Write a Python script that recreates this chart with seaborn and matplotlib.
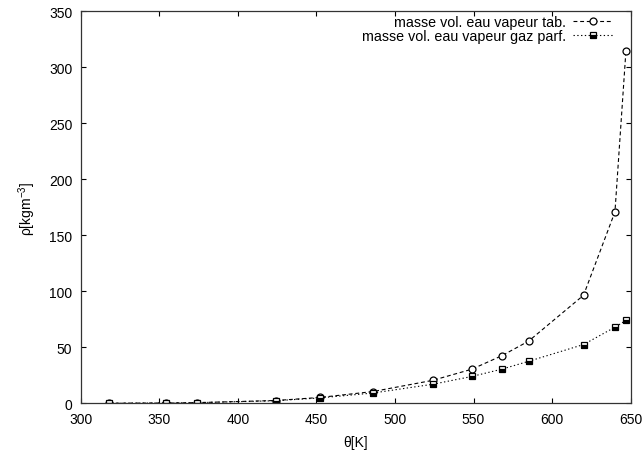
import numpy as np
import matplotlib
matplotlib.use("Agg")
import matplotlib.pyplot as plt
import seaborn as sns

# temperatures [K]
theta = [318, 354, 374, 424, 452, 486, 524, 549, 568, 585, 620, 640, 647]
# masse volumique tabulee
rho_tab = [0.07, 0.29, 0.6, 2.5, 5.2, 10.5, 20.5, 30.5, 42.5, 55.5, 96.5, 171, 315]
# masse volumique gaz parfait
rho_gp = [0.07, 0.28, 0.58, 2.3, 4.8, 9.2, 17, 24, 30.5, 37.5, 52.5, 68, 74]

xticks = [300, 350, 400, 450, 500, 550, 600, 650]
yticks = [0, 50, 100, 150, 200, 250, 300, 350]

sns.set_style("ticks")
plt.rcParams['font.family'] = ['Liberation Sans', 'DejaVu Sans']
plt.rcParams['mathtext.fontset'] = 'custom'
plt.rcParams['mathtext.rm'] = 'Liberation Sans'
plt.rcParams['text.color'] = 'black'
plt.rcParams['axes.labelcolor'] = 'black'
plt.rcParams['xtick.color'] = 'black'
plt.rcParams['ytick.color'] = 'black'

fig = plt.figure(figsize=(6.44, 4.52), dpi=100)
ax = fig.add_axes([0.1253, 0.1055, 0.854, 0.867])

sns.lineplot(x=theta, y=rho_tab, ax=ax, color='k', linewidth=0.8,
             linestyle=(0, (3.5, 2.5)), marker='o', markersize=5,
             markerfacecolor='white', markeredgecolor='k', markeredgewidth=0.9,
             label='masse vol. eau vapeur tab.')
sns.lineplot(x=theta, y=rho_gp, ax=ax, color='k', linewidth=0.8,
             linestyle=(0, (1.2, 2.2)), marker='s', markersize=4.6,
             fillstyle='bottom', markerfacecolor='k', markerfacecoloralt='white',
             markeredgecolor='k', markeredgewidth=0.9,
             label='masse vol. eau vapeur gaz parf.')

ax.set_xlim(300, 650)
ax.set_ylim(0, 350)
ax.set_xticks(xticks)
ax.set_yticks(yticks)
ax.tick_params(direction='in', top=True, right=True, labelsize=10,
               length=3.5, width=0.8, pad=6)
for s in ax.spines.values():
    s.set_linewidth(0.9)
    s.set_color('#333333')
ax.set_xlabel(r'θ[K]', fontsize=10, labelpad=7)
ax.set_ylabel(r'ρ[kgm$^{-3}$]', fontsize=10, labelpad=8)

leg = ax.legend(loc='upper right', bbox_to_anchor=(0.978, 1.005), frameon=False,
                markerfirst=False, fontsize=10.3, handlelength=2.8,
                borderaxespad=0.0, labelspacing=0.0, handletextpad=0.45)

fig.savefig("out.png", dpi=100)
